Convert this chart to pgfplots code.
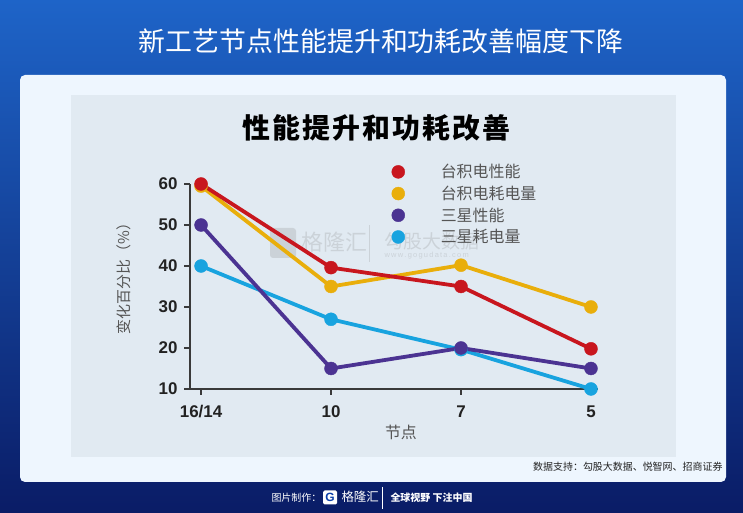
\documentclass[border=0pt]{standalone}
\usepackage{fontspec}
\setmainfont{Liberation Sans}
\newfontfamily\cjk{Noto Sans CJK SC}
\usepackage{pgfplots}
\pgfplotsset{compat=1.18}
\definecolor{bgtop}{HTML}{1E64C8}
\definecolor{bgmid}{HTML}{0C40AA}
\definecolor{bgbot}{HTML}{0A1C66}
\definecolor{cardc}{HTML}{EEF6FE}
\definecolor{panelc}{HTML}{E1EAF2}
\definecolor{axisc}{HTML}{3A3A3A}
\definecolor{tickc}{HTML}{222222}
\definecolor{legc}{HTML}{555555}
\definecolor{cred}{HTML}{C8161E}
\definecolor{cyel}{HTML}{E9AE0B}
\definecolor{cpur}{HTML}{4B3392}
\definecolor{ccya}{HTML}{18A3DF}
\newcommand\kk{\hspace{2bp}}
\begin{document}
\begin{tikzpicture}
\begin{scope}[x=1bp,y=1bp]
\useasboundingbox (0,0) rectangle (743,513);
\shade[top color=bgtop, middle color=bgmid, bottom color=bgbot] (0,0) rectangle (743,513);
\fill[cardc, rounded corners=5bp] (20,31) rectangle (726,438);
\fill[panelc] (70.7,55.7) rectangle (676,418);
\node[white, font=\cjk\fontsize{27}{27}\selectfont] at (381,471.5) {新工艺节点性能提升和功耗改善幅度下降};
\node[black, font=\cjk\bfseries\fontsize{28}{28}\selectfont] at (376.5,385) {性\kk 能\kk 提\kk 升\kk 和\kk 功\kk 耗\kk 改\kk 善};
% watermark
\begin{scope}[opacity=0.22]
\fill[gray, rounded corners=3bp] (270,255) rectangle (296,285);
\node[gray, font=\cjk\fontsize{22}{22}\selectfont, anchor=west] at (298,271) {格隆汇};
\draw[gray, line width=0.8bp] (369,251) -- (369,288);
\node[gray, font=\cjk\fontsize{19}{19}\selectfont, anchor=west] at (381,272) {勾股大数据};
\node[gray, font=\fontsize{7.5}{7.5}\selectfont, anchor=west] at (381,257) {w\,w\,w\,.\,g\,o\,g\,u\,d\,a\,t\,a\,.\,c\,o\,m};
\end{scope}
% source
\node[tickc, font=\cjk\fontsize{10}{10}\selectfont, anchor=east] at (726,46) {数据支持：勾股大数据、悦智网、招商证券};
% footer
\node[white, font=\cjk\fontsize{10}{10}\selectfont, anchor=west] at (268,15) {图片制作：};
\fill[white, rounded corners=1.5bp] (323,8.5) rectangle (337,22.5);
\node[bgmid, font=\bfseries\fontsize{12}{12}\selectfont] at (330,15.5) {G};
\node[white, font=\cjk\fontsize{12.5}{12.5}\selectfont, anchor=west] at (338,16) {格隆汇};
\draw[white, line width=0.6bp] (382.5,4) -- (382.5,26);
\node[white, font=\cjk\bfseries\fontsize{10}{10}\selectfont, anchor=west] at (387,15) {全球视野 下注中国};
\end{scope}
\begin{axis}[
  at={(190bp,124bp)}, anchor=south west, scale only axis,
  width=408bp, height=205bp,
  xmin=-0.085, xmax=3.054, ymin=10, ymax=60,
  axis lines=left, axis line style={-, line width=1.6bp, color=axisc},
  xtick={0,1,2,3}, xticklabels={16/14,10,7,5},
  ytick={10,20,30,40,50,60},
  tick align=outside, major tick length=6bp,
  tick style={line width=1.6bp, color=axisc},
  ticklabel style={font=\bfseries\fontsize{17}{17}\selectfont, color=tickc},
  xticklabel style={yshift=-7bp},
  yticklabel style={xshift=-3bp},
  /pgf/number format/assume math mode=true,
  clip=false,
  xlabel={\cjk 节点}, ylabel={\cjk 变化百分比（\%）},
  xlabel style={at={(axis description cs:0.517,-0.21)}, anchor=center, font=\fontsize{16}{16}\selectfont, color=legc},
  ylabel style={at={(axis description cs:-0.162,0.556)}, anchor=center, font=\fontsize{15}{15}\selectfont, color=legc},
  every axis plot/.append style={line width=3.8bp, mark=*, mark size=6.5bp, mark options={solid, line width=0.4bp}},
  legend image code/.code={\draw[#1] plot coordinates {(0bp,0bp)};},
  legend cell align=left,
  reverse legend,
  legend style={draw=none, fill=none, at={(axis description cs:0.494,1.113)}, anchor=north west,
    font=\cjk\fontsize{16}{16}\selectfont, text=legc, row sep=0pt, column sep=36bp, inner sep=0pt,
    nodes={inner sep=0pt, minimum height=21.7bp}},
]
\addplot[color=ccya] coordinates {(0,40) (1,27) (2,19.6) (3,10)};
\addlegendentry{三星耗电量}
\addplot[color=cpur] coordinates {(0,50) (1,15) (2,20) (3,15)};
\addlegendentry{三星性能}
\addplot[color=cyel] coordinates {(0,59.5) (1,35) (2,40.2) (3,30)};
\addlegendentry{台积电耗电量}
\addplot[color=cred] coordinates {(0,60) (1,39.6) (2,35) (3,19.8)};
\addlegendentry{台积电性能}
\end{axis}
\end{tikzpicture}
\end{document}
